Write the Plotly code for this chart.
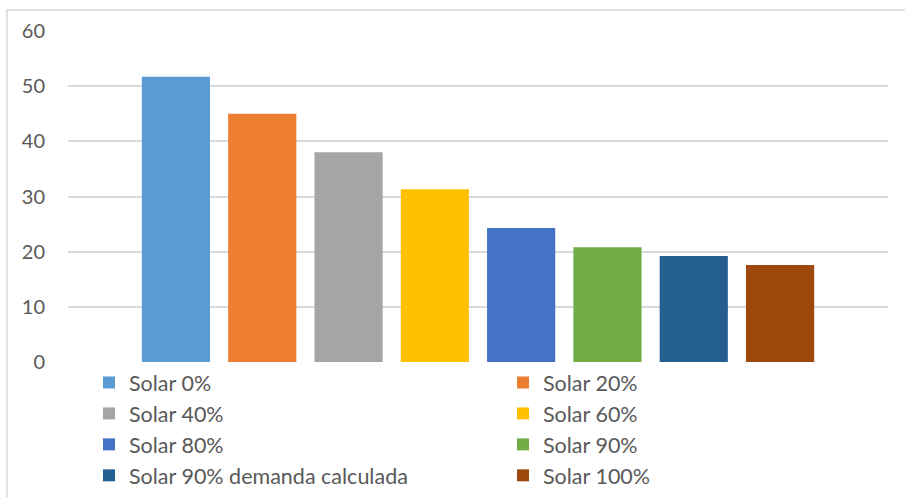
import plotly.graph_objects as go

series_names = ["Solar 0%", "Solar 20%", "Solar 40%", "Solar 60%",
                "Solar 80%", "Solar 90%", "Solar 90% demanda calculada", "Solar 100%"]
series_values = [51.7, 45.0, 38.0, 31.3, 24.3, 20.8, 19.2, 17.6]
colors = ["#5B9BD5", "#ED7D31", "#A5A5A5", "#FFC000",
          "#4472C4", "#70AD47", "#255E91", "#9E480E"]
category = ["Total"]
y_ticks = [0, 10, 20, 30, 40, 50, 60]

FONT = "Lato, Calibri, 'Open Sans', sans-serif"
W, H = 905, 497
L, R, T, B = 68, 17, 31, 135
pw, ph = W - L - R, H - T - B

fig = go.Figure()
for i, (name, val, col) in enumerate(zip(series_names, series_values, colors)):
    fig.add_trace(go.Bar(x=category, y=[val], name=name, marker_color=col,
                         marker_line_width=0,
                         legend="legend" if i % 2 == 0 else "legend2"))

legend_common = dict(orientation="v", xanchor="left", y=0, yanchor="top",
                     font=dict(family=FONT, size=21.5, color="#595959"),
                     traceorder="normal", bgcolor="rgba(0,0,0,0)", borderwidth=0)

fig.update_layout(
    width=W, height=H,
    margin=dict(l=L, r=R, t=T, b=B, pad=0, autoexpand=False),
    paper_bgcolor="white", plot_bgcolor="white",
    barmode="group", bargap=0.158, bargroupgap=0.21,
    font=dict(family=FONT, color="#595959", size=20),
    showlegend=True,
    legend=dict(x=(89 - L) / pw, **legend_common),
    legend2=dict(x=(503 - L) / pw, **legend_common),
    xaxis=dict(showticklabels=False, showgrid=False, zeroline=False, showline=False,
               ticks="", automargin=False),
    yaxis=dict(range=[0, 60], tickvals=y_ticks, showgrid=True, gridcolor="#d9d9d9",
               gridwidth=1.5, zeroline=False, showline=False, ticks="",
               automargin=False,
               ticklabelstandoff=22, tickfont=dict(size=20, color="#595959")),
    shapes=[dict(type="rect", xref="paper", yref="paper",
                 x0=(7 - L) / pw, x1=1.2, y0=(H - B - 10) / ph, y1=-0.6,
                 line=dict(color="#d9d9d9", width=1.5), layer="below")],
)

fig.write_html("out.html")
